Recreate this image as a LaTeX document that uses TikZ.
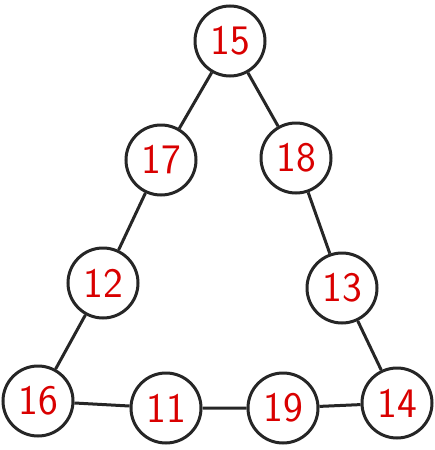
\documentclass[tikz,border=0pt]{standalone}
\usepackage{tikz}

\begin{document}
\begin{tikzpicture}[x=1pt, y=-1pt,
	ball/.style={circle, draw=black!85, line width=3pt, minimum size=70pt,
		inner sep=0pt, text=red!85!black,
		font=\sffamily\fontsize{42}{42}\selectfont}]
	\newcommand\rim{black!85}

	% 画边框
	\useasboundingbox (0, 0) rectangle (435, 450);

	% 画圆圈与数字
	\node[ball] (n15) at (230, 41) {15};
	\node[ball] (n17) at (161, 160) {17};
	\node[ball] (n18) at (296, 158) {18};
	\node[ball] (n12) at (103, 283) {12};
	\node[ball] (n13) at (342, 288) {13};
	\node[ball] (n16) at (38, 401) {16};
	\node[ball] (n11) at (166, 408) {11};
	\node[ball] (n19) at (283, 408) {19};
	\node[ball] (n14) at (397, 403) {14};

	% 画连线
	\draw[\rim, line width=3pt] (n15) -- (n17) -- (n12) -- (n16);
	\draw[\rim, line width=3pt] (n15) -- (n18) -- (n13) -- (n14);
	\draw[\rim, line width=3pt] (n16) -- (n11) -- (n19) -- (n14);
\end{tikzpicture}
\end{document}
